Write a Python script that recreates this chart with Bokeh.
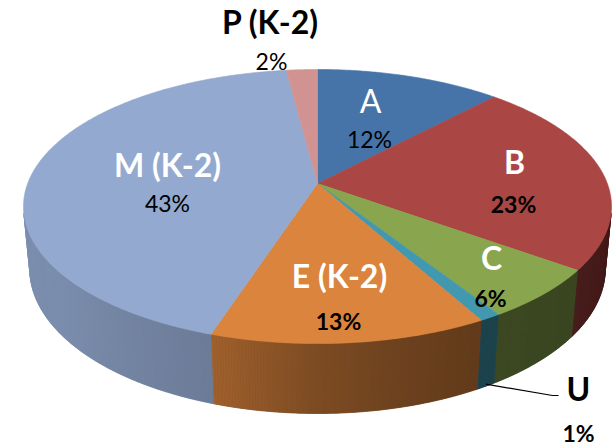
import numpy as np
from bokeh.plotting import figure
from bokeh.models import Range1d, ColumnDataSource
from bokeh.embed import file_html
from bokeh.resources import INLINE
from bokeh.core.properties import value

# ---- data: slices clockwise from 12 o'clock ----
categories = ["A", "B", "C", "U", "E (K-2)", "M (K-2)", "P (K-2)"]
shares = [12, 23, 6, 1, 13, 43, 2]
pct_labels = ["12%", "23%", "6%", "1%", "13%", "43%", "2%"]

# ---- styles ----
top_colors = ["#4673A8", "#AA4644", "#89A54E", "#4198AF", "#DB843D", "#93A9CF", "#D19392"]
FONT = "Lato"
NAME_SIZE = 32
PCT_SIZE = 23

# label placement (screen px): name baseline, percentage baseline
name_pos = [(370, 113), (514, 174), (491, 270), (578, 401), (339, 288), (167, 177), (270, 34)]
pct_pos = [(369, 148), (513, 213), (490, 307), (578, 442), (338, 330), (167, 212), (271, 70)]
name_color = ["white", "white", "white", "black", "white", "white", "black"]
name_style = ["normal", "bold", "bold", "bold", "bold", "bold", "bold"]
pct_style = ["normal", "bold", "bold", "bold", "bold", "normal", "normal"]

W, H = 616, 447

# ---- 3D view: unit-radius disc seen from above with perspective ----
CX, CY = 317.0, 183.0
ALPHA = np.arcsin(0.4595)
DIST = 5.286
FOCAL = 1532.0
THICK = 0.245


def project(px, py, pz):
    w = DIST + pz * np.cos(ALPHA) - py * np.sin(ALPHA)
    u = FOCAL * px / w
    v = FOCAL * (pz * np.sin(ALPHA) + py * np.cos(ALPHA)) / w
    return CX + u, CY - v


def rim(phi_deg, py):
    ph = np.radians(phi_deg)
    return project(np.sin(ph), np.full_like(ph, py, dtype=float), np.cos(ph))


def wall(p0, p1, npts):
    ph = np.linspace(p0, p1, npts)
    tx, ty = rim(ph, 0.0)
    bx, by = rim(ph[::-1], -THICK)
    return list(tx) + list(bx), list(ty) + list(by)


def shade(phi):
    nodes = [95, 150, 165, 180, 198, 230, 265]
    vals = [0.40, 0.44, 0.49, 0.57, 0.73, 0.83, 0.87]
    return float(np.interp(phi, nodes, vals))


def scaled(hex_color, f):
    h = hex_color.lstrip("#")
    r, g, b = (int(h[i:i + 2], 16) for i in (0, 2, 4))
    return "#%02x%02x%02x" % tuple(int(round(min(255, c * f))) for c in (r, g, b))


cum = np.concatenate([[0], np.cumsum(shares)]) / float(sum(shares)) * 360.0

# visible part of the cylinder wall
lim = np.degrees(np.arccos(-1.0 / (DIST * np.cos(ALPHA))))
vis0, vis1 = lim, 360.0 - lim

STEP = 0.5
base_xs, base_ys, base_cols = [], [], []
side_xs, side_ys, side_cols = [], [], []
top_xs, top_ys = [], []
for i in range(len(shares)):
    a0, a1 = cum[i], cum[i + 1]
    s0, s1 = max(a0, vis0), min(a1, vis1)
    if s1 > s0:
        # solid underlay for the slice's wall, then shaded strips over it
        bx, by = wall(s0, s1, max(3, int((s1 - s0) * 2)))
        base_xs.append(bx)
        base_ys.append(by)
        base_cols.append(scaled(top_colors[i], shade(0.5 * (s0 + s1))))
        n = max(1, int(np.ceil((s1 - s0) / STEP)))
        edges = np.linspace(s0, s1, n + 1)
        for j in range(n):
            xs, ys = wall(edges[j], edges[j + 1], 2)
            side_xs.append(xs)
            side_ys.append(ys)
            side_cols.append(scaled(top_colors[i], shade(0.5 * (edges[j] + edges[j + 1]))))
    # top face wedge
    ph = np.linspace(a0, a1, max(4, int((a1 - a0) * 2)))
    ax, ay = rim(ph, 0.0)
    ox, oy = project(0.0, 0.0, 0.0)
    top_xs.append([ox] + list(ax))
    top_ys.append([oy] + list(ay))

p = figure(width=W, height=H, output_backend="svg", toolbar_location=None,
           x_range=Range1d(0, W), y_range=Range1d(H, 0), min_border=0)
p.axis.visible = False
p.grid.visible = False
p.outline_line_color = None
p.background_fill_color = "white"
p.border_fill_color = "white"

p.patches(base_xs, base_ys, fill_color=base_cols, line_color=base_cols, line_width=0.5)
p.patches(side_xs, side_ys, fill_color=side_cols, line_color=side_cols, line_width=0.4)
p.patches(top_xs, top_ys, fill_color=top_colors, line_color=top_colors, line_width=0.6)

# leader line for the thin U slice
iu = categories.index("U")
mid_u = 0.5 * (cum[iu] + cum[iu + 1])
lx, ly = rim(np.array([mid_u]), -THICK * 0.97)
p.line([float(lx[0]), 552, 558], [float(ly[0]), 395, 395], line_color="black", line_width=1.2)

# text glyph baselines sit a little low; lift them to the intended baseline
name_lift = 0.42 * NAME_SIZE
pct_lift = 0.42 * PCT_SIZE

name_src = ColumnDataSource(dict(
    x=[q[0] for q in name_pos], y=[q[1] - name_lift for q in name_pos], text=categories,
    color=name_color, style=name_style))
p.text(x="x", y="y", text="text", source=name_src, text_color="color",
       text_font_style="style", text_font=value(FONT), text_font_size="%dpx" % NAME_SIZE,
       text_align="center", text_baseline="alphabetic")

pct_src = ColumnDataSource(dict(
    x=[q[0] for q in pct_pos], y=[q[1] - pct_lift for q in pct_pos], text=pct_labels,
    style=pct_style))
p.text(x="x", y="y", text="text", source=pct_src, text_color="black",
       text_font_style="style", text_font=value(FONT), text_font_size="%dpx" % PCT_SIZE,
       text_align="center", text_baseline="alphabetic")

open("out.html", "w").write(file_html(p, INLINE))
